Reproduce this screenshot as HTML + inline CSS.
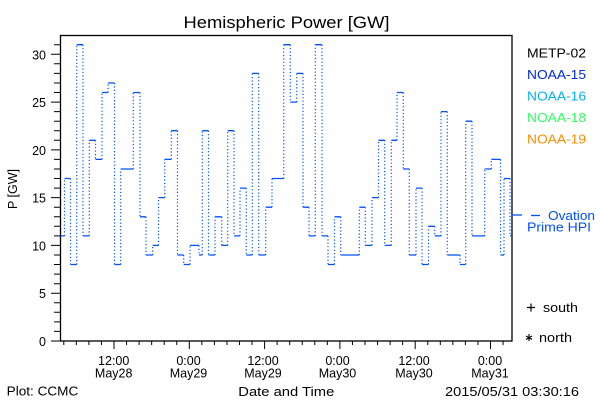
<!DOCTYPE html>
<html>
<head>
<meta charset="utf-8">
<style>
html,body{margin:0;padding:0;background:#fff;}
svg{display:block;}
text{font-family:"Liberation Sans",sans-serif;}
</style>
</head>
<body>
<svg width="600" height="400" viewBox="0 0 600 400" xmlns="http://www.w3.org/2000/svg">
<rect width="600" height="400" fill="#fff"/>

<!-- Title -->
<text x="183.5" y="28" font-size="17" textLength="206" lengthAdjust="spacingAndGlyphs" fill="#000">Hemispheric Power [GW]</text>

<!-- Frame -->
<rect x="60.5" y="35.5" width="451.5" height="305.5" fill="none" stroke="#000" stroke-width="1.3"/>

<!-- Y ticks -->
<g stroke="#000" stroke-width="1">
<path d="M51 341H60M54 331.4H60M54 321.9H60M54 312.3H60M54 302.8H60M51 293.2H60M54 283.7H60M54 274.1H60M54 264.5H60M54 255H60M51 245.4H60M54 235.9H60M54 226.3H60M54 216.8H60M54 207.2H60M51 197.6H60M54 188.1H60M54 178.5H60M54 169H60M54 159.4H60M51 149.9H60M54 140.3H60M54 130.7H60M54 121.2H60M54 111.6H60M51 102.1H60M54 92.5H60M54 83H60M54 73.4H60M54 63.8H60M51 54.3H60M54 44.7H60"/>
</g>
<g font-size="12.5" fill="#000" text-anchor="end">
<text x="46" y="346">0</text>
<text x="46" y="298.2">5</text>
<text x="46" y="250.4">10</text>
<text x="46" y="202.6">15</text>
<text x="46" y="154.9">20</text>
<text x="46" y="107.1">25</text>
<text x="46" y="59.3">30</text>
</g>
<text transform="translate(17,189) rotate(-90)" font-size="12.5" text-anchor="middle" fill="#000">P [GW]</text>

<!-- X ticks -->
<g stroke="#000" stroke-width="1">
<path d="M63.8 341V345M76.35 341V345M88.9 341V345M101.45 341V345M114 341V349M126.55 341V345M139.1 341V345M151.65 341V345M164.2 341V345M176.75 341V345M189.3 341V349M201.85 341V345M214.4 341V345M226.95 341V345M239.5 341V345M252.05 341V345M264.6 341V349M277.15 341V345M289.7 341V345M302.25 341V345M314.8 341V345M327.35 341V345M339.9 341V349M352.45 341V345M365 341V345M377.55 341V345M390.1 341V345M402.65 341V345M415.2 341V349M427.75 341V345M440.3 341V345M452.85 341V345M465.4 341V345M477.95 341V345M490.5 341V349M503.05 341V345"/>
</g>
<g font-size="12.5" fill="#000" text-anchor="middle">
<text x="113.7" y="365">12:00</text><text x="113.7" y="377.5">May28</text>
<text x="188.5" y="365">0:00</text><text x="188.5" y="377.5">May29</text>
<text x="263" y="365">12:00</text><text x="263" y="377.5">May29</text>
<text x="337.5" y="365">0:00</text><text x="337.5" y="377.5">May30</text>
<text x="414" y="365">12:00</text><text x="414" y="377.5">May30</text>
<text x="490" y="365">0:00</text><text x="490" y="377.5">May31</text>
</g>

<!-- Bottom texts -->
<text x="6.7" y="395.5" font-size="12.5" textLength="71.6" lengthAdjust="spacingAndGlyphs" fill="#000">Plot: CCMC</text>
<text x="238.3" y="396" font-size="12.5" textLength="96" lengthAdjust="spacingAndGlyphs" fill="#000">Date and Time</text>
<text x="445" y="396" font-size="12.5" textLength="134" lengthAdjust="spacingAndGlyphs" fill="#000">2015/05/31 03:30:16</text>

<!-- Data: horizontal solid segments -->
<path fill="none" stroke="#0050ff" stroke-width="1.3" d="M60.5 235.9H64.5M64.5 178.5H70.5M70.5 264.5H76.7M76.7 44.7H83M83 235.9H89.3M89.3 140.3H95.5M95.5 159.4H102M102 92.5H108M108 83H114.5M114.5 264.5H120.7M120.7 169H133.3M133.3 92.5H140M140 216.8H146M146 255H152.7M152.7 245.4H158.5M158.5 197.6H164.7M164.7 159.4H171.3M171.3 130.7H177.5M177.5 255H183.7M183.7 264.5H190M190 245.4H199M199 255H202.3M202.3 130.7H208.5M208.5 255H215M215 216.8H221.7M221.7 245.4H227.7M227.7 130.7H234M234 235.9H240M240 188.1H246.3M246.3 255H252.3M252.3 73.4H258.7M258.7 255H265.7M265.7 207.2H272M272 178.5H283.7M283.7 44.7H290.3M290.3 102.1H296.7M296.7 73.4H303M303 207.2H309M309 235.9H315.3M315.3 44.7H322M322 235.9H328M328 264.5H334.5M334.5 216.8H340.7M340.7 255H359.3M359.3 207.2H365.3M365.3 245.4H372M372 197.6H378.5M378.5 140.3H384.7M384.7 245.4H391.3M391.3 140.3H397M397 92.5H403.3M403.3 169H409.3M409.3 255H416M416 188.1H422M422 264.5H428.5M428.5 226.3H434.7M434.7 235.9H441M441 111.6H447.3M447.3 255H460M460 264.5H465.7M465.7 121.2H472M472 235.9H484.7M484.7 169H491.3M491.3 159.4H500.5M500.5 255H504M504 178.5H510M510 235.9H512"/>

<!-- Data: vertical dotted risers -->
<path fill="none" stroke="#0050ff" stroke-width="1.2" stroke-dasharray="1.2 2.2" d="M64.5 235.9V178.5M70.5 178.5V264.5M76.7 264.5V44.7M83 44.7V235.9M89.3 235.9V140.3M95.5 140.3V159.4M102 159.4V92.5M108 92.5V83M114.5 83V264.5M120.7 264.5V169M133.3 169V92.5M140 92.5V216.8M146 216.8V255M152.7 255V245.4M158.5 245.4V197.6M164.7 197.6V159.4M171.3 159.4V130.7M177.5 130.7V255M183.7 255V264.5M190 264.5V245.4M199 245.4V255M202.3 255V130.7M208.5 130.7V255M215 255V216.8M221.7 216.8V245.4M227.7 245.4V130.7M234 130.7V235.9M240 235.9V188.1M246.3 188.1V255M252.3 255V73.4M258.7 73.4V255M265.7 255V207.2M272 207.2V178.5M283.7 178.5V44.7M290.3 44.7V102.1M296.7 102.1V73.4M303 73.4V207.2M309 207.2V235.9M315.3 235.9V44.7M322 44.7V235.9M328 235.9V264.5M334.5 264.5V216.8M340.7 216.8V255M359.3 255V207.2M365.3 207.2V245.4M372 245.4V197.6M378.5 197.6V140.3M384.7 140.3V245.4M391.3 245.4V140.3M397 140.3V92.5M403.3 92.5V169M409.3 169V255M416 255V188.1M422 188.1V264.5M428.5 264.5V226.3M434.7 226.3V235.9M441 235.9V111.6M447.3 111.6V255M460 255V264.5M465.7 264.5V121.2M472 121.2V235.9M484.7 235.9V169M491.3 169V159.4M500.5 159.4V255M504 255V178.5M510 178.5V235.9"/>

<!-- Legend -->
<g font-size="12.5">
<text x="527" y="57.5" fill="#000" textLength="59" lengthAdjust="spacingAndGlyphs">METP-02</text>
<text x="527" y="79" fill="#0028e6" textLength="59" lengthAdjust="spacingAndGlyphs">NOAA-15</text>
<text x="527" y="100.5" fill="#00b0ff" textLength="59" lengthAdjust="spacingAndGlyphs">NOAA-16</text>
<text x="527" y="122" fill="#33ff66" textLength="59" lengthAdjust="spacingAndGlyphs">NOAA-18</text>
<text x="527" y="143.5" fill="#ff8c00" textLength="59" lengthAdjust="spacingAndGlyphs">NOAA-19</text>
</g>

<!-- Ovation marker -->
<path d="M512 215H522" stroke="#0050ff" stroke-width="1.3"/>
<path d="M531 215.5H540" stroke="#0050ff" stroke-width="1.3"/>
<text x="548" y="220" font-size="13" fill="#0050ff" textLength="47" lengthAdjust="spacingAndGlyphs">Ovation</text>
<text x="527" y="231.7" font-size="13" fill="#0050ff" textLength="64" lengthAdjust="spacingAndGlyphs">Prime HPI</text>

<!-- south / north -->
<path d="M527 307.5H535M531 303.5V311.5" stroke="#000" stroke-width="1.2"/>
<text x="543" y="312" font-size="12.5" fill="#000" textLength="35" lengthAdjust="spacingAndGlyphs">south</text>
<path d="M529 334V341M526 336L532 339.5M532 336L526 339.5" stroke="#000" stroke-width="1.1"/>
<text x="539" y="342" font-size="12.5" fill="#000" textLength="33" lengthAdjust="spacingAndGlyphs">north</text>

</svg>
</body>
</html>
